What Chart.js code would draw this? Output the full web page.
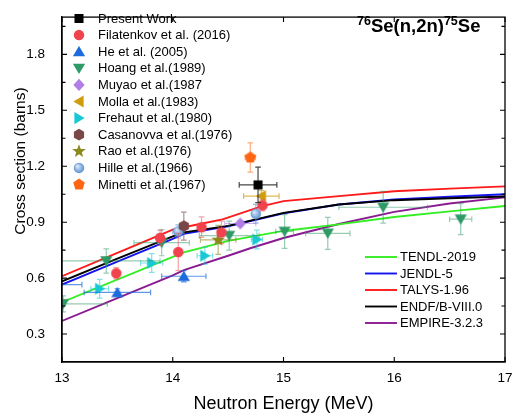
<!DOCTYPE html>
<html><head><meta charset="utf-8">
<script src="https://cdn.jsdelivr.net/npm/chart.js@4.4.0/dist/chart.umd.min.js"></script>
<style>html,body{margin:0;padding:0;background:#fff;}</style>
</head><body>
<canvas id="c" width="513" height="420" style="width:513px;height:420px;display:block"></canvas>
<script>
const FONT = "'Liberation Sans', Arial, Helvetica, sans-serif";

// ---- tick labels ----
const xTicks = [13, 14, 15, 16, 17];
const xTickLabels = ['13', '14', '15', '16', '17'];
const yTicks = [0.3, 0.6, 0.9, 1.2, 1.5, 1.8];
const yTickLabels = ['0.3', '0.6', '0.9', '1.2', '1.5', '1.8'];

// ---- evaluated libraries ----
const tendlE = [13, 14.1, 14.5, 15, 15.5, 16, 16.5, 17];
const tendlS = [0.471, 0.738, 0.80, 0.853, 0.888, 0.928, 0.958, 0.987];
const jendlE = [13, 13.5, 14, 14.1, 14.5, 15, 15.5, 16, 16.5, 17];
const jendlS = [0.565, 0.688, 0.81, 0.837, 0.878, 0.947, 0.995, 1.022, 1.036, 1.05];
const talysE = [13, 13.5, 14, 14.2, 14.45, 14.8, 15, 15.5, 16, 16.5, 17];
const talysS = [0.61, 0.735, 0.86, 0.885, 0.915, 0.985, 1.013, 1.04, 1.066, 1.08, 1.092];
const endfE = [13, 13.5, 14, 14.1, 14.5, 15, 15.5, 16, 16.5, 17];
const endfS = [0.583, 0.705, 0.824, 0.845, 0.88, 0.95, 0.995, 1.018, 1.028, 1.038];
const empireE = [13, 13.5, 14, 14.1, 14.5, 14.7, 15, 15.5, 16, 16.5, 17];
const empireS = [0.37, 0.493, 0.615, 0.643, 0.72, 0.76, 0.815, 0.89, 0.955, 1.0, 1.033];

// ---- experimental data (E, sigma, dE, dSigma) ----
const presentE = [14.77], presentS = [1.10], presentDE = [0.17], presentDS = [0.095];
const filE = [13.49, 13.885, 14.05, 14.26, 14.44, 14.81];
const filS = [0.626, 0.816, 0.74, 0.873, 0.845, 0.99];
const filDE = [0, 0, 0, 0, 0, 0];
const filDS = [0.03, 0.04, 0.1, 0.055, 0.06, 0.03];
const heE = [12.88, 13.5, 14.1], heS = [0.565, 0.523, 0.61], heDE = [0.3, 0.3, 0.2], heDS = [0.02, 0.02, 0.03];
const hoangE = [13.01, 13.40, 13.90, 14.51, 15.01, 15.40, 15.90, 16.60];
const hoangS = [0.462, 0.692, 0.79, 0.828, 0.85, 0.84, 0.98, 0.916];
const hoangDE = [0.4, 0.485, 0.25, 0.27, 0.08, 0.2, 0.4, 0.1];
const hoangDS = [0.043, 0.065, 0.07, 0.078, 0.09, 0.086, 0.085, 0.083];
const muyaoE = [14.61], muyaoS = [0.893], muyaoDE = [0.14], muyaoDS = [0.015];
const mollaE = [14.80], mollaS = [1.04], mollaDE = [0.16], mollaDS = [0.03];
const frehautE = [13.34, 13.81, 14.29, 14.76], frehautS = [0.543, 0.681, 0.72, 0.807];
const frehautDE = [0.08, 0.1, 0.07, 0.05], frehautDS = [0.05, 0.05, 0.045, 0.05];
const casE = [14.10], casS = [0.879], casDE = [0], casDS = [0.075];
const raoE = [14.41], raoS = [0.805], raoDE = [0.16], raoDS = [0.078];
const hilleE = [14.05, 14.75], hilleS = [0.85, 0.945], hilleDE = [0.05, 0], hilleDS = [0.035, 0.05];
const minettiE = [14.70], minettiS = [1.247], minettiDE = [0.045], minettiDS = [0.078];

function pts(E, S) { return E.map((e, i) => ({x: e, y: S[i]})); }

function drawMarker(ctx, shape, color, x, y) {
  const k = 1.22;
  ctx.save();
  ctx.fillStyle = color;
  ctx.beginPath();
  let i, a, r;
  switch (shape) {
    case 'square': ctx.rect(x - 3.7 * k, y - 3.7 * k, 7.4 * k, 7.4 * k); break;
    case 'circle': ctx.arc(x, y, 4.3 * k, 0, 2 * Math.PI); break;
    case 'triUp': ctx.moveTo(x, y - 4.6 * k); ctx.lineTo(x + 5 * k, y + 3.8 * k); ctx.lineTo(x - 5 * k, y + 3.8 * k); ctx.closePath(); break;
    case 'triDown': ctx.moveTo(x, y + 4.6 * k); ctx.lineTo(x + 5 * k, y - 3.8 * k); ctx.lineTo(x - 5 * k, y - 3.8 * k); ctx.closePath(); break;
    case 'diamond': ctx.moveTo(x, y - 5 * k); ctx.lineTo(x + 4.6 * k, y); ctx.lineTo(x, y + 5 * k); ctx.lineTo(x - 4.6 * k, y); ctx.closePath(); break;
    case 'triLeft': ctx.moveTo(x - 4.6 * k, y); ctx.lineTo(x + 3.8 * k, y - 5 * k); ctx.lineTo(x + 3.8 * k, y + 5 * k); ctx.closePath(); break;
    case 'triRight': ctx.moveTo(x + 4.6 * k, y); ctx.lineTo(x - 3.8 * k, y - 5 * k); ctx.lineTo(x - 3.8 * k, y + 5 * k); ctx.closePath(); break;
    case 'hexagon':
      for (i = 0; i < 6; i++) { a = Math.PI / 6 + i * Math.PI / 3; const px = x + 4.8 * k * Math.cos(a), py = y + 4.8 * k * Math.sin(a); i ? ctx.lineTo(px, py) : ctx.moveTo(px, py); }
      ctx.closePath(); break;
    case 'star':
      for (i = 0; i < 10; i++) { a = -Math.PI / 2 + i * Math.PI / 5; r = (i % 2 ? 2.4 : 5.8) * k; const px = x + r * Math.cos(a), py = y + r * Math.sin(a); i ? ctx.lineTo(px, py) : ctx.moveTo(px, py); }
      ctx.closePath(); break;
    case 'pentagon':
      for (i = 0; i < 5; i++) { a = -Math.PI / 2 + i * 2 * Math.PI / 5; const px = x + 5 * k * Math.cos(a), py = y + 5 * k * Math.sin(a); i ? ctx.lineTo(px, py) : ctx.moveTo(px, py); }
      ctx.closePath(); break;
    case 'sphere': {
      const g = ctx.createRadialGradient(x - 1.8, y - 1.8, 0.5, x, y, 5.3);
      g.addColorStop(0, '#d8e8fa'); g.addColorStop(1, color);
      ctx.fillStyle = g; ctx.arc(x, y, 4.3 * k, 0, 2 * Math.PI); break;
    }
  }
  ctx.fill();
  ctx.restore();
}

function markerCanvas(shape, color) {
  const c = document.createElement('canvas');
  c.width = 18; c.height = 18;
  drawMarker(c.getContext('2d'), shape, color, 9, 9);
  return c;
}

const series = [
  {label: 'Present Work', shape: 'square', color: '#000000', err: 'rgba(40,40,40,0.85)', E: presentE, S: presentS, dE: presentDE, dS: presentDS},
  {label: 'Filatenkov et al. (2016)', shape: 'circle', color: '#f0434e', err: 'rgba(240,67,78,0.5)', E: filE, S: filS, dE: filDE, dS: filDS},
  {label: 'He et al. (2005)', shape: 'triUp', color: '#1c6bdc', err: 'rgba(28,107,220,0.7)', E: heE, S: heS, dE: heDE, dS: heDS},
  {label: 'Hoang et al.(1989)', shape: 'triDown', color: '#2e9a66', err: 'rgba(46,154,102,0.5)', E: hoangE, S: hoangS, dE: hoangDE, dS: hoangDS},
  {label: 'Muyao et al.(1987', shape: 'diamond', color: '#b07ee4', err: 'rgba(176,126,228,0.6)', E: muyaoE, S: muyaoS, dE: muyaoDE, dS: muyaoDS},
  {label: 'Molla et al.(1983)', shape: 'triLeft', color: '#cf9c0e', err: 'rgba(207,156,14,0.7)', E: mollaE, S: mollaS, dE: mollaDE, dS: mollaDS},
  {label: 'Frehaut et al.(1980)', shape: 'triRight', color: '#18c8d4', err: 'rgba(24,200,212,0.55)', E: frehautE, S: frehautS, dE: frehautDE, dS: frehautDS},
  {label: 'Casanovva et al.(1976)', shape: 'hexagon', color: '#7a4747', err: 'rgba(122,71,71,0.6)', E: casE, S: casS, dE: casDE, dS: casDS},
  {label: 'Rao et al.(1976)', shape: 'star', color: '#8a8a1c', err: 'rgba(138,138,28,0.6)', E: raoE, S: raoS, dE: raoDE, dS: raoDS},
  {label: 'Hille et al.(1966)', shape: 'sphere', color: '#5b8fcf', err: 'rgba(91,143,207,0.6)', E: hilleE, S: hilleS, dE: hilleDE, dS: hilleDS},
  {label: 'Minetti et al.(1967)', shape: 'pentagon', color: '#ff6614', err: 'rgba(255,102,20,0.55)', E: minettiE, S: minettiS, dE: minettiDE, dS: minettiDS}
];

const curves = [
  {label: 'ENDF/B-VIII.0', color: '#000000', E: endfE, S: endfS, row: 3},
  {label: 'JENDL-5', color: '#1414f0', E: jendlE, S: jendlS, row: 1},
  {label: 'TALYS-1.96', color: '#ff1a1a', E: talysE, S: talysS, row: 2},
  {label: 'TENDL-2019', color: '#33ee22', E: tendlE, S: tendlS, row: 0},
  {label: 'EMPIRE-3.2.3', color: '#8a1a92', E: empireE, S: empireS, row: 4}
];

const datasets = [];
series.forEach(s => datasets.push({
  label: s.label, data: pts(s.E, s.S), pointStyle: markerCanvas(s.shape, s.color),
  pointRadius: 5, showLine: false, errE: s.dE, errS: s.dS, errColor: s.err
}));
curves.forEach(c => datasets.push({
  label: c.label, data: pts(c.E, c.S), showLine: true, borderColor: c.color, borderWidth: 1.9,
  pointRadius: 0, fill: false, tension: 0
}));

const errorBars = {
  id: 'errorBars',
  beforeDatasetDraw(chart, args) {
    const ds = chart.data.datasets[args.index];
    if (!ds.errE) return;
    const ctx = chart.ctx, xs = chart.scales.x, ys = chart.scales.y, ca = chart.chartArea;
    ctx.save();
    ctx.beginPath(); ctx.rect(ca.left, ca.top, ca.right - ca.left, ca.bottom - ca.top); ctx.clip();
    ctx.strokeStyle = ds.errColor; ctx.lineWidth = 1.2;
    const cap = 2.8;
    ds.data.forEach((p, i) => {
      const px = xs.getPixelForValue(p.x), py = ys.getPixelForValue(p.y);
      const dx = ds.errE[i], dy = ds.errS[i];
      ctx.beginPath();
      if (dy > 0) {
        const y1 = ys.getPixelForValue(p.y + dy), y2 = ys.getPixelForValue(p.y - dy);
        ctx.moveTo(px, y1); ctx.lineTo(px, y2);
        ctx.moveTo(px - cap, y1); ctx.lineTo(px + cap, y1);
        ctx.moveTo(px - cap, y2); ctx.lineTo(px + cap, y2);
      }
      if (dx > 0) {
        const x1 = xs.getPixelForValue(p.x - dx), x2 = xs.getPixelForValue(p.x + dx);
        ctx.moveTo(x1, py); ctx.lineTo(x2, py);
        ctx.moveTo(x1, py - cap); ctx.lineTo(x1, py + cap);
        ctx.moveTo(x2, py - cap); ctx.lineTo(x2, py + cap);
      }
      ctx.stroke();
    });
    ctx.restore();
  }
};

const decorations = {
  id: 'decorations',
  afterDraw(chart) {
    const ctx = chart.ctx, ca = chart.chartArea, xs = chart.scales.x, ys = chart.scales.y;
    ctx.save();
    // frame
    ctx.strokeStyle = '#000'; ctx.lineWidth = 1.3;
    ctx.strokeRect(ca.left, ca.top, ca.right - ca.left, ca.bottom - ca.top);
    // inward ticks
    ctx.lineWidth = 1.1;
    ctx.beginPath();
    xs.ticks.forEach(t => {
      const px = xs.getPixelForValue(t.value);
      ctx.moveTo(px, ca.bottom); ctx.lineTo(px, ca.bottom - 5);
      ctx.moveTo(px, ca.top); ctx.lineTo(px, ca.top + 5);
    });
    const yt = ys.ticks.map(t => t.value);
    const step = yt[1] - yt[0];
    const minors = [];
    yt.forEach(v => { if (v + step / 2 <= ys.max + 1e-9) minors.push(v + step / 2); });
    yt.forEach(v => {
      const py = ys.getPixelForValue(v);
      ctx.moveTo(ca.left, py); ctx.lineTo(ca.left + 5, py);
      ctx.moveTo(ca.right, py); ctx.lineTo(ca.right - 5, py);
    });
    minors.forEach(v => {
      const py = ys.getPixelForValue(v);
      ctx.moveTo(ca.left, py); ctx.lineTo(ca.left + 3.5, py);
      ctx.moveTo(ca.right, py); ctx.lineTo(ca.right - 3.5, py);
    });
    ctx.stroke();

    // y-axis title
    ctx.save();
    ctx.translate(21, 161); ctx.rotate(-Math.PI / 2);
    ctx.fillStyle = '#000'; ctx.font = '15.5px ' + FONT; ctx.textAlign = 'center'; ctx.textBaseline = 'middle';
    ctx.fillText('Cross section (barns)', 0, 0);
    ctx.restore();

    // experimental legend
    ctx.font = '13px ' + FONT; ctx.textAlign = 'left'; ctx.textBaseline = 'middle'; ctx.fillStyle = '#000';
    series.forEach((s, i) => {
      const y = 18.5 + i * 16.6;
      drawMarker(ctx, s.shape, s.color, 79, y);
      ctx.fillStyle = '#000';
      ctx.fillText(s.label, 98, y + 0.5);
    });
    // library legend
    curves.forEach(c => {
      const y = 257 + c.row * 16.5;
      ctx.strokeStyle = c.color; ctx.lineWidth = 1.9;
      ctx.beginPath(); ctx.moveTo(365, y); ctx.lineTo(397, y); ctx.stroke();
      ctx.fillStyle = '#000';
      ctx.fillText(c.label, 400, y + 0.5);
    });

    // reaction title
    ctx.textBaseline = 'alphabetic';
    let x = 357; const base = 32;
    const parts = [['76', 12.5, -7], ['Se(n,2n)', 18.5, 0], ['75', 12.5, -7], ['Se', 18.5, 0]];
    parts.forEach(([t, sz, dy]) => {
      ctx.font = 'bold ' + sz + 'px ' + FONT;
      ctx.fillText(t, x, base + dy);
      x += ctx.measureText(t).width;
    });
    ctx.restore();
  }
};

new Chart(document.getElementById('c'), {
  type: 'scatter',
  data: {datasets},
  options: {
    responsive: false, animation: false, devicePixelRatio: 1, events: [],
    layout: {padding: {left: 0, right: 8, top: 4, bottom: 0}},
    plugins: {legend: {display: false}, tooltip: {enabled: false}},
    scales: {
      x: {
        type: 'linear', min: 13, max: 17,
        afterBuildTicks: s => { s.ticks = xTicks.map(v => ({value: v})); },
        afterFit: s => { s.height = 58; },
        grid: {display: false},
        border: {display: true, color: '#000', width: 1.3},
        ticks: {color: '#000', font: {family: FONT, size: 13.5}, padding: 0, maxRotation: 0,
          callback: v => xTickLabels[xTicks.indexOf(v)]},
        title: {display: true, text: 'Neutron Energy (MeV)', color: '#000', font: {family: FONT, size: 18}, padding: {top: 0, bottom: 5}}
      },
      y: {
        type: 'linear', min: 0.15, max: 2.0,
        afterBuildTicks: s => { s.ticks = yTicks.map(v => ({value: v})); },
        afterFit: s => { s.width = 62; },
        grid: {display: false},
        border: {display: true, color: '#000', width: 1.3},
        ticks: {color: '#000', font: {family: FONT, size: 13.5}, padding: 9,
          callback: v => { const i = yTicks.findIndex(t => Math.abs(t - v) < 1e-9); return i >= 0 ? yTickLabels[i] : ''; }}
      }
    }
  },
  plugins: [errorBars, decorations]
});
</script>
</body></html>
